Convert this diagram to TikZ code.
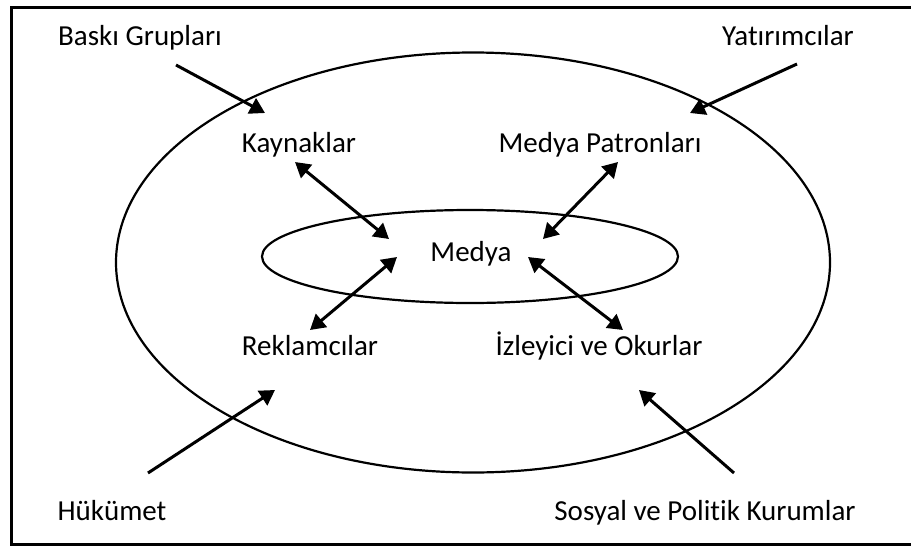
\documentclass[tikz,border=0pt]{standalone}
\usepackage{fontspec}
\setmainfont{Carlito}[Ligatures={NoCommon}]
\usetikzlibrary{arrows.meta,shapes.geometric}
\begin{document}
\begin{tikzpicture}[x=1pt,y=-1pt,
  lbl/.style={inner sep=0pt, anchor=base, font=\fontsize{29}{35}\selectfont},
  ring/.style={draw, line width=2.2pt},
  conn/.style={line width=3pt, -{Triangle[length=15pt,width=17pt]}},
  biconn/.style={line width=3pt, {Triangle[length=15pt,width=17pt]}-{Triangle[length=15pt,width=17pt]}}]
\useasboundingbox (0,0) rectangle (911,549);
\draw[line width=3pt] (920,7.5) -- (11.5,7.5) -- (11.5,544) -- (920,544);
% ellipses
\node[ring, ellipse, minimum width=714pt, minimum height=420pt, inner sep=0pt] (outer) at (473,262.5) {};
\node[ring, ellipse, minimum width=416pt, minimum height=93pt, inner sep=0pt] (inner) at (470,256.5) {};
% labels
\node[lbl] (baski) at (140,45) {Baskı Grupları};
\node[lbl] (yatir) at (788,45) {Yatırımcılar};
\node[lbl] (kayn) at (299,152) {Kaynaklar};
\node[lbl] (patron) at (600,152) {Medya Patronları};
\node[lbl] (medya) at (471,261) {Medya};
\node[lbl] (rekl) at (310,355) {Reklamcılar};
\node[lbl] (izley) at (599,355) {İzleyici ve Okurlar};
\node[lbl] (hukum) at (112,520) {Hükümet};
\node[lbl] (sosyal) at (705,520) {Sosyal ve Poli\kern0pt tik Kurumlar};
% arrow end points
\coordinate (baskiS) at (176,65);
\coordinate (baskiE) at (265,113);
\coordinate (yatirS) at (797,64);
\coordinate (yatirE) at (690,113);
\coordinate (kaynA) at (295,162);
\coordinate (kaynB) at (389,239);
\coordinate (patronA) at (618,162);
\coordinate (patronB) at (543,239);
\coordinate (reklA) at (310,330);
\coordinate (reklB) at (397,257);
\coordinate (izleyA) at (623,330);
\coordinate (izleyB) at (528,257);
\coordinate (hukumS) at (148,473);
\coordinate (hukumE) at (275,390);
\coordinate (sosyalS) at (734,473);
\coordinate (sosyalE) at (639,390);
% connectors
\draw[conn] (baskiS) -- (baskiE);
\draw[conn] (yatirS) -- (yatirE);
\draw[biconn] (kaynA) -- (kaynB);
\draw[biconn] (patronA) -- (patronB);
\draw[biconn] (reklA) -- (reklB);
\draw[biconn] (izleyA) -- (izleyB);
\draw[conn] (hukumS) -- (hukumE);
\draw[conn] (sosyalS) -- (sosyalE);
\end{tikzpicture}
\end{document}
